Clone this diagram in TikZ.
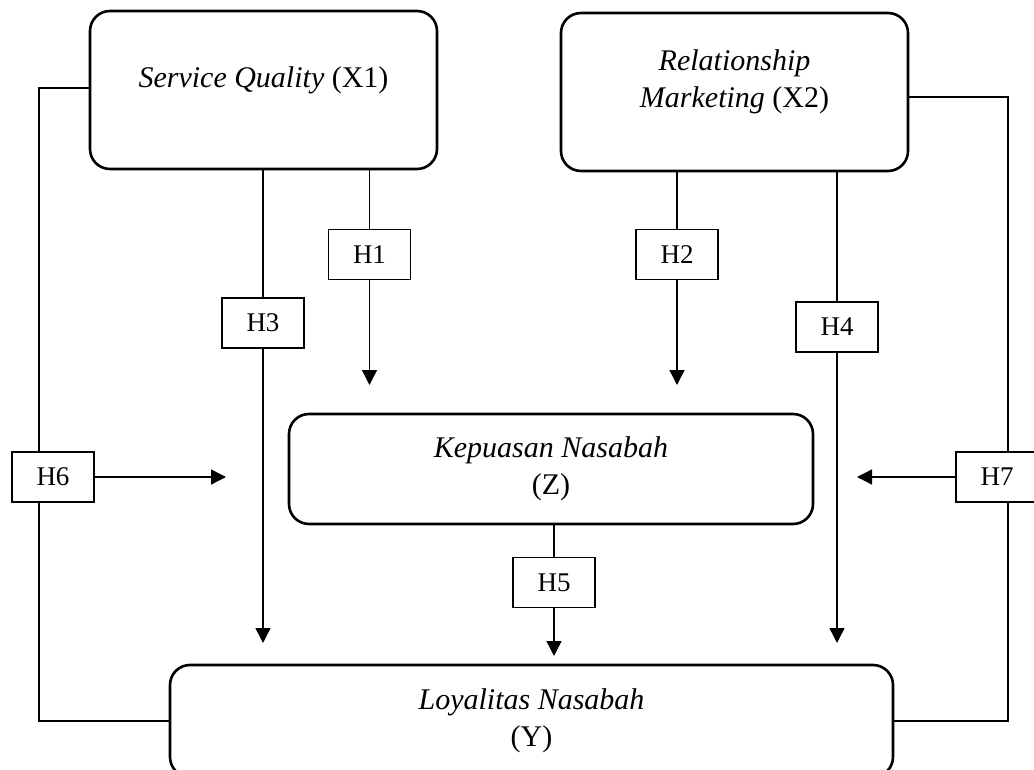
\documentclass[tikz,border=0pt]{standalone}
\usepackage{fontspec}
\setmainfont{Liberation Serif}
\usetikzlibrary{arrows.meta}
\tikzset{
  mainbox/.style={draw, line width=2.6pt, rounded corners=20pt, inner sep=0pt, align=center,
    font=\fontsize{30}{37}\selectfont},
  hbox/.style={draw, line width=1.8pt, minimum width=82pt, minimum height=50pt, inner sep=0pt,
    font=\fontsize{27}{32}\selectfont},
  conn/.style={line width=1.4pt},
  arr/.style={line width=1.4pt, -{Triangle[length=15pt,width=15pt]}}
}
\begin{document}
\begin{tikzpicture}[x=1pt,y=-1pt]
\useasboundingbox (0,0) rectangle (1034,770);
\clip (0,0) rectangle (1034,770);
% main boxes
\node[mainbox, minimum width=347pt, minimum height=158pt,
  label={[font=\fontsize{30}{37}\selectfont, yshift=10pt]center:\textit{Service Quality} (X1)}] (x1) at (263.5,90) {};
\node[mainbox, minimum width=347pt, minimum height=158pt,
  label={[font=\fontsize{30}{37}\selectfont, align=center, yshift=10pt]center:\textit{Relationship}\\\textit{Marketing} (X2)}] (x2) at (734.5,92) {};
\node[mainbox, minimum width=524pt, minimum height=110pt] (z) at (551,469) {\textit{Kepuasan Nasabah}\\(Z)};
\node[mainbox, minimum width=723pt, minimum height=112pt] (y) at (531.5,721) {\textit{Loyalitas Nasabah}\\(Y)};
% hypothesis boxes
\node[hbox] (h1) at (369.5,254.5) {H1};
\node[hbox] (h2) at (677,254.5) {H2};
\node[hbox] (h3) at (263,323) {H3};
\node[hbox] (h4) at (837,327) {H4};
\node[hbox] (h5) at (554,582.5) {H5};
\node[hbox] (h6) at (53,477) {H6};
\node[hbox] (h7) at (997,477) {H7};
% free arrow ends
\coordinate (t1) at (369.5,385);
\coordinate (t2) at (677,385);
\coordinate (t3) at (263,643);
\coordinate (t4) at (837,643);
\coordinate (t5) at (554,656);
\coordinate (t6) at (226,477);
\coordinate (t7) at (857,477);
\coordinate (lx) at (39,88);
\coordinate (rx) at (1008,97);
% H1, H2
\draw[conn] (h1.north |- x1.south) -- (h1.north);
\draw[arr] (h1.south) -- (t1);
\draw[conn] (h2.north |- x2.south) -- (h2.north);
\draw[arr] (h2.south) -- (t2);
% H3, H4
\draw[conn] (h3.north |- x1.south) -- (h3.north);
\draw[arr] (h3.south) -- (t3);
\draw[conn] (h4.north |- x2.south) -- (h4.north);
\draw[arr] (h4.south) -- (t4);
% H5
\draw[conn] (h5.north |- z.south) -- (h5.north);
\draw[arr] (h5.south) -- (t5);
% H6 loop
\draw[conn] (lx -| x1.west) -- (lx) -- (lx |- h6.north);
\draw[conn] (lx |- h6.south) |- (y.west);
\draw[arr] (h6.east) -- (t6);
% H7 loop
\draw[conn] (rx -| x2.east) -- (rx) -- (rx |- h7.north);
\draw[conn] (rx |- h7.south) |- (y.east);
\draw[arr] (h7.west) -- (t7);
\end{tikzpicture}
\end{document}
